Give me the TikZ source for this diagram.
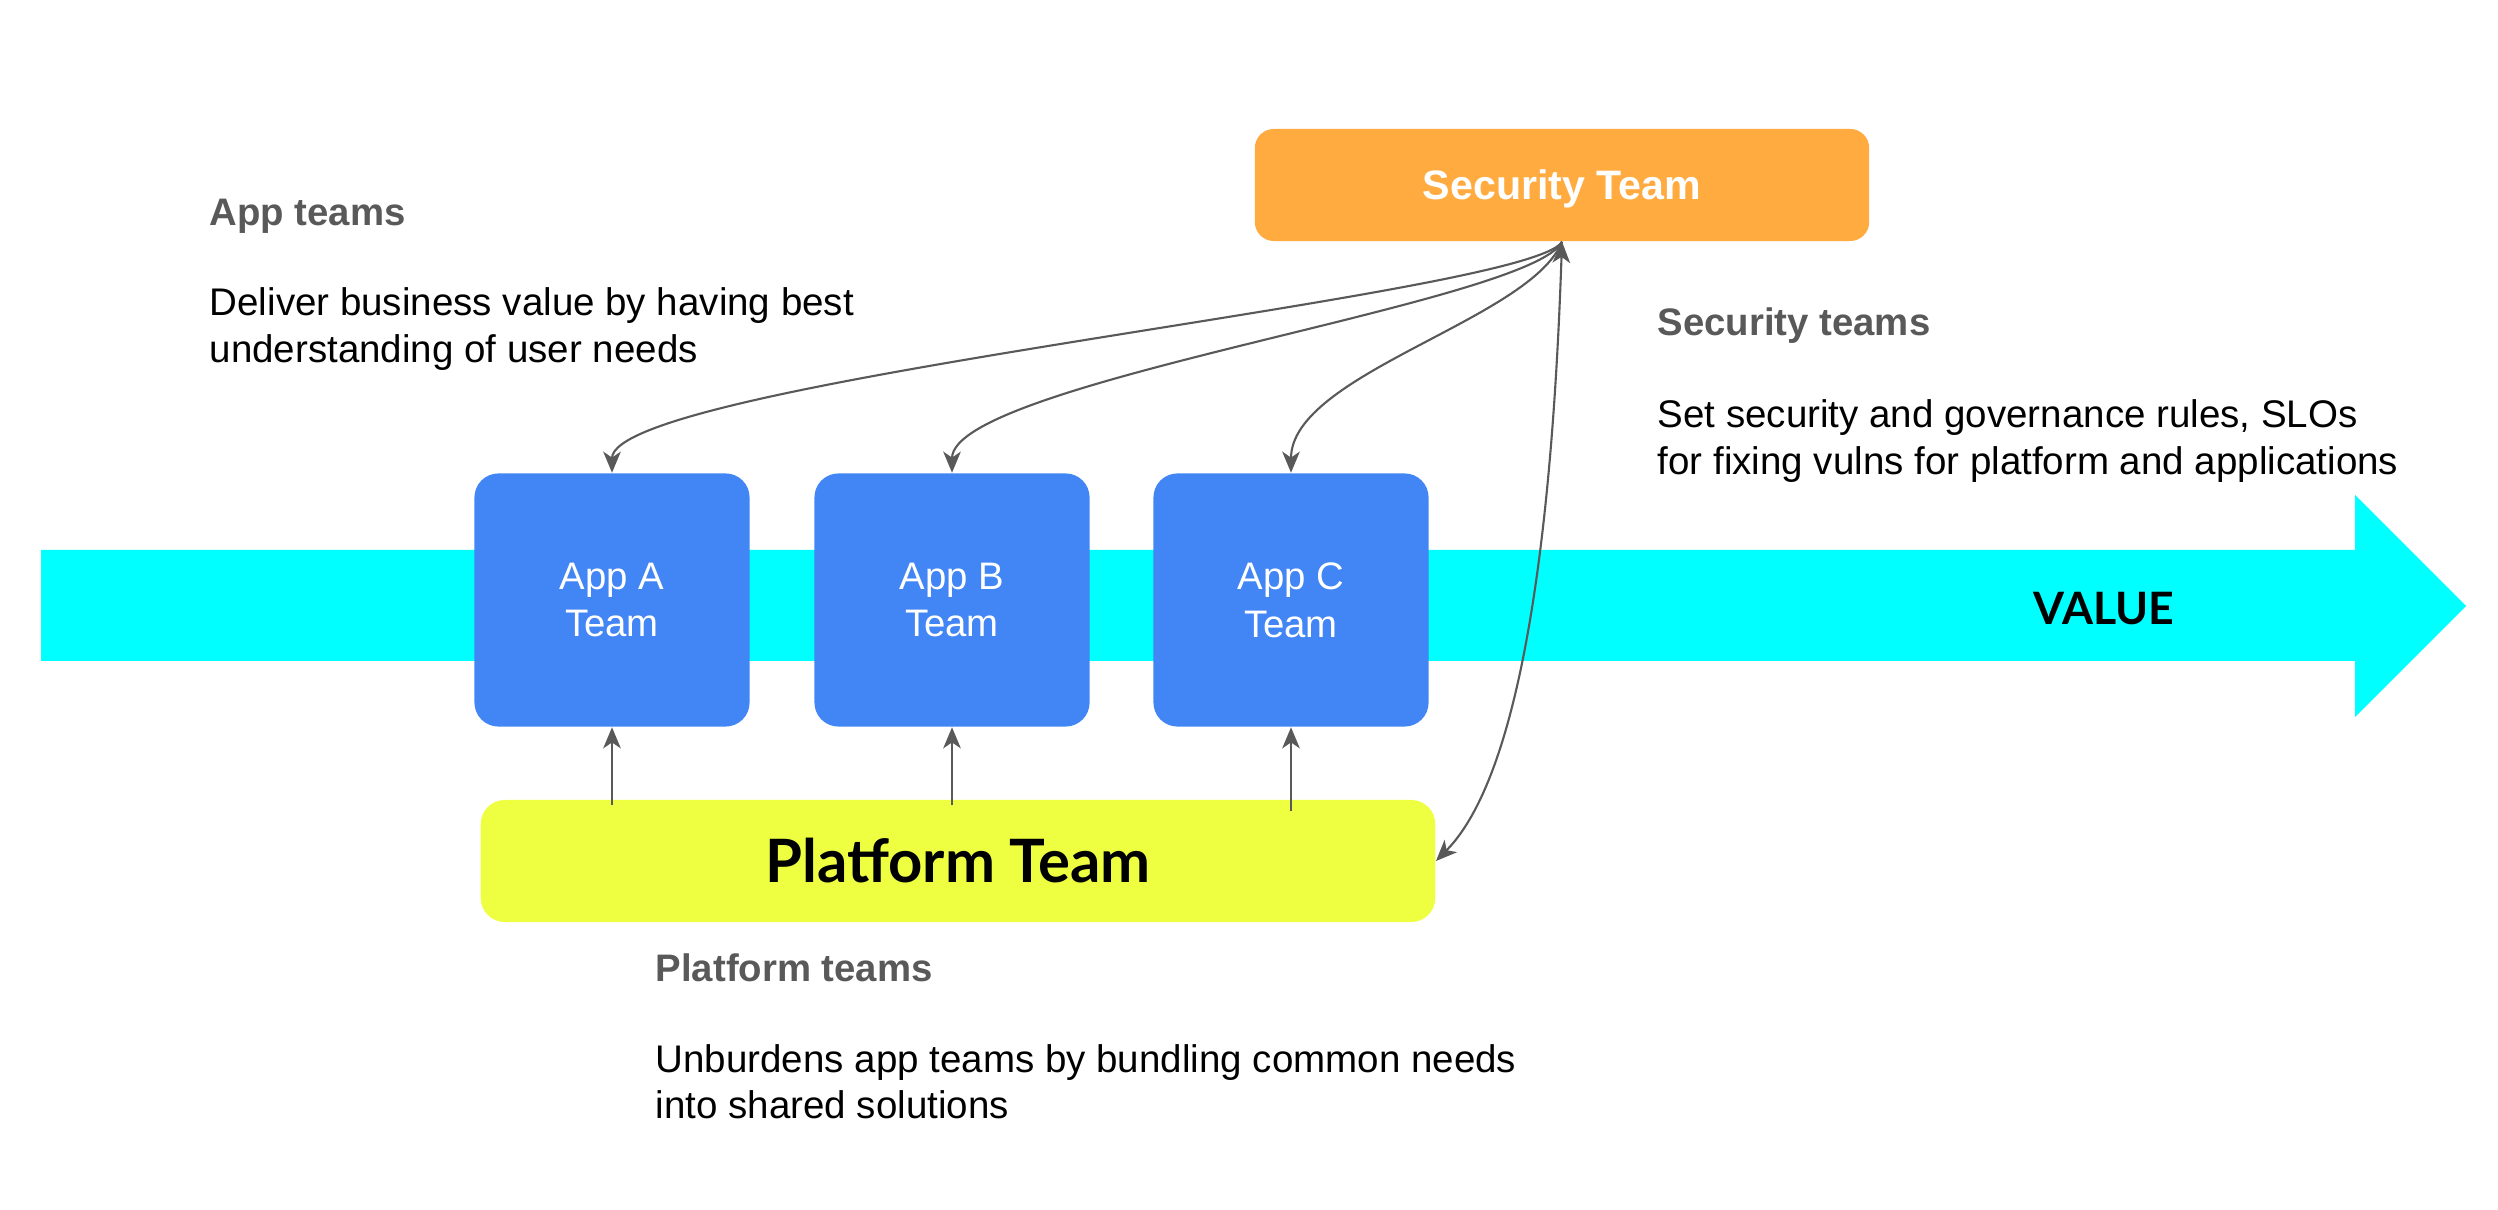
\documentclass[tikz,border=0pt]{standalone}
\usepackage{fontspec}
\setmainfont{Liberation Sans}
\newfontfamily\geofont{Lato}
\usetikzlibrary{arrows.meta,calc}
\definecolor{secorange}{HTML}{FFAB40}
\definecolor{appblue}{HTML}{4285F4}
\definecolor{platlime}{HTML}{EEFF41}
\definecolor{valcyan}{HTML}{00FFFF}
\definecolor{linegray}{HTML}{595959}
\definecolor{headgray}{HTML}{595959}
\tikzset{
  teambox/.style={rectangle, rounded corners=0.24cm, inner sep=0pt, draw=none},
  appbox/.style={teambox, fill=appblue, minimum width=2.75cm, minimum height=2.53cm,
    text=white, align=center, font=\fontsize{10.9pt}{13.6pt}\selectfont},
  heading/.style={anchor=base west, inner sep=0pt, text=headgray,
    font=\fontsize{10.9pt}{13pt}\selectfont\bfseries},
  bodytext/.style={anchor=base west, inner sep=0pt, text=black,
    font=\fontsize{10.95pt}{13.1pt}\selectfont},
  conn/.style={draw=linegray, line width=0.6pt,
    -{Stealth[length=6pt, width=5pt, inset=1.7pt]}},
  conn2/.style={draw=linegray, line width=0.6pt,
    {Stealth[length=6pt, width=5pt, inset=1.7pt]}-{Stealth[length=6pt, width=5pt, inset=1.7pt]}}
}
\begin{document}
\begin{tikzpicture}[x=0.01cm, y=-0.01cm]
\useasboundingbox (0,0) rectangle (2498,1210);
% value arrow
\fill[valcyan] (41,550) -- (2355,550) -- (2355,495) -- (2466,606) -- (2355,717) -- (2355,661) -- (41,661) -- cycle;
\node[inner sep=0pt, font=\geofont\fontsize{12.7pt}{15pt}\selectfont\bfseries] (value) at (2104,609) {VALUE};

% boxes
\node[teambox, rounded corners=0.19cm, fill=secorange, minimum width=6.14cm, minimum height=1.12cm,
  text=white, text depth=0pt, font=\fontsize{11.7pt}{14pt}\selectfont\bfseries] (sec) at (1562,185) {Security Team};
\node[appbox] (appA) at (612,600) {App A\\Team};
\node[appbox] (appB) at (952,600) {App B\\Team};
\node[appbox] (appC) at (1291,600) {App C\\Team};
\node[teambox, fill=platlime, minimum width=9.54cm, minimum height=1.22cm,
  font=\geofont\fontsize{17pt}{20pt}\selectfont\bfseries] (plat) at (958,861) {Platform Team};

% connectors
\draw[conn] (sec.south) .. controls ++(-31,54) and ($(appA.north)+(0,-91)$) .. (appA.north);
\draw[conn] (sec.south) .. controls ++(-31,62) and ($(appB.north)+(0,-91)$) .. (appB.north);
\draw[conn] (sec.south) .. controls ++(-31,78) and ($(appC.north)+(0,-99)$) .. (appC.north);
\draw[conn2] (sec.south) .. controls ++(-8,237) and ($(plat.east)+(94,-95)$) .. (plat.east);
\draw[conn] ($(appA.south |- plat.north)+(0,6)$) -- (appA.south);
\draw[conn] ($(appB.south |- plat.north)+(0,6)$) -- (appB.south);
\draw[conn] ($(appC.south |- plat.north)+(0,12)$) -- (appC.south);

% descriptions
\node[heading] (apph) at (209,226) {App teams};
\node[bodytext] (appd) at (209,316) {\begin{tabular}[t]{@{}l@{}}Deliver business value by having best\\understanding of user needs\end{tabular}};
\node[heading] (sech) at (1657,336) {Security teams};
\node[bodytext] (secd) at (1657,428) {\begin{tabular}[t]{@{}l@{}}Set security and governance rules, SLOs\\for fixing vulns for platform and applications\end{tabular}};
\node[heading] (plath) at (655,981) {Platform teams};
\node[bodytext] (platd) at (655,1072) {\begin{tabular}[t]{@{}l@{}}Unburdens app teams by bundling common needs\\into shared solutions\end{tabular}};
\end{tikzpicture}
\end{document}
